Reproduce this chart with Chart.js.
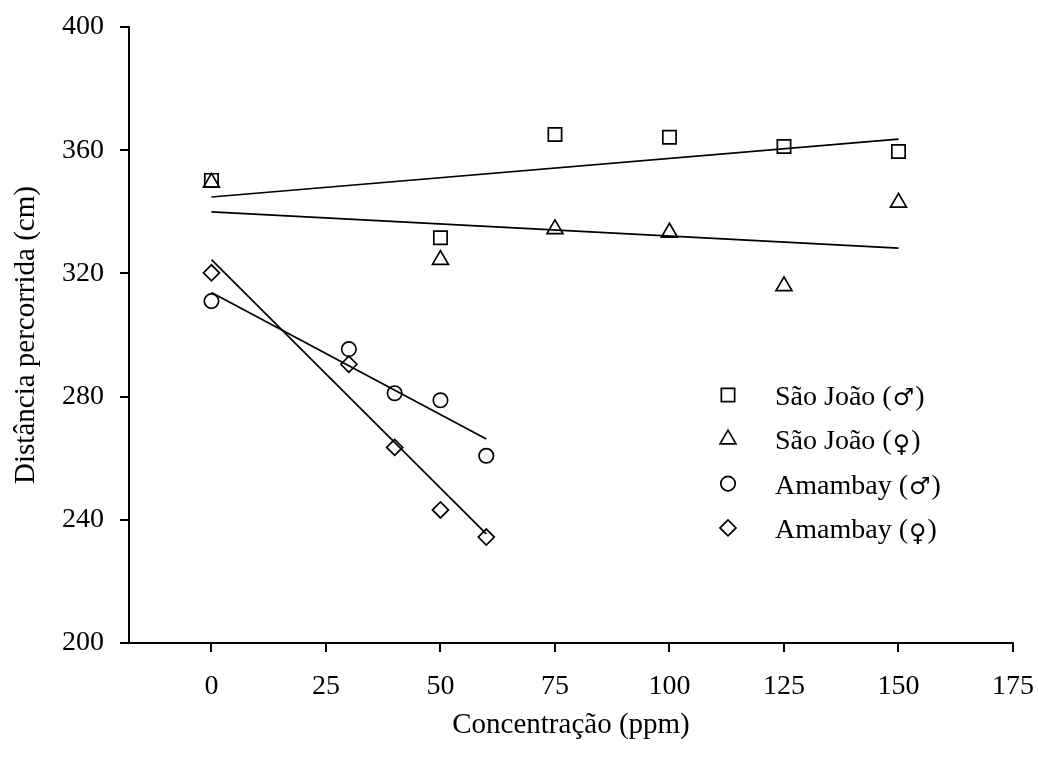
<!DOCTYPE html>
<html>
<head>
<meta charset="utf-8">
<script src="https://cdn.jsdelivr.net/npm/chart.js@4/dist/chart.umd.min.js"></script>
<style>
  html, body { margin: 0; padding: 0; background: #fff; }
  canvas { display: block; }
</style>
</head>
<body>
<canvas id="chart" width="1038" height="757"></canvas>
<script>
'use strict';

// measured distances per concentration
const saoJoaoX = [0, 50, 75, 100, 125, 150];
const saoJoaoMale = [350.2, 331.6, 365.1, 364.2, 361.2, 359.6];
const saoJoaoFemale = [349.5, 324.4, 334.4, 333.3, 315.9, 343.0];

const amambayX = [0, 30, 40, 50, 60];
const amambayMale = [311.0, 295.4, 281.1, 278.8, 260.8];
const amambayFemale = [320.2, 290.5, 263.5, 243.2, 234.4];

// fitted regression lines: [start, end] of each
const fitSaoJoaoX = [0, 150];
const fitSaoJoaoMale = [344.8, 363.6];
const fitSaoJoaoFemale = [340.0, 328.2];
const fitAmambayX = [0, 60];
const fitAmambayMale = [313.8, 266.2];
const fitAmambayFemale = [324.5, 235.4];

const xTicks = [0, 25, 50, 75, 100, 125, 150, 175];
const yTicks = [200, 240, 280, 320, 360, 400];

const legendNames = ['São João', 'São João', 'Amambay', 'Amambay'];
const legendSexes = ['♂', '♀', '♂', '♀'];

const FONT = "'Liberation Serif', 'Times New Roman', 'DejaVu Serif', serif";
const markers = [
	{ pointStyle: 'rect', radius: 9.4 },
	{ pointStyle: 'triangle', radius: 9.2 },
	{ pointStyle: 'circle', radius: 7.2 },
	{ pointStyle: 'rectRot', radius: 8 }
];

const pairs = (xs, ys) => xs.map((x, i) => ({ x, y: ys[i] }));

function pointSet(xs, ys, m) {
	return {
		type: 'scatter',
		data: pairs(xs, ys),
		pointStyle: m.pointStyle,
		pointRadius: m.radius,
		pointHoverRadius: m.radius,
		pointBorderWidth: 1.7,
		borderColor: '#000',
		backgroundColor: 'rgba(0,0,0,0)'
	};
}

function fitLine(xs, ys) {
	return {
		type: 'line',
		data: pairs(xs, ys),
		borderColor: '#000',
		borderWidth: 1.7,
		pointRadius: 0,
		fill: false,
		tension: 0
	};
}

const legendBox = {
	id: 'legendBox',
	afterDatasetsDraw(chart) {
		const ctx = chart.ctx;
		const mx = 728, tx = 775, top = 395, gap = 44.3;
		ctx.save();
		ctx.strokeStyle = '#000';
		ctx.fillStyle = 'rgba(0,0,0,0)';
		ctx.lineWidth = 1.7;
		markers.forEach((m, i) => {
			Chart.helpers.drawPoint(ctx, { pointStyle: m.pointStyle, radius: m.radius, rotation: 0, borderWidth: 1.7 }, mx, top + i * gap);
		});
		ctx.fillStyle = '#000';
		ctx.textBaseline = 'alphabetic';
		ctx.textAlign = 'left';
		legendNames.forEach((name, i) => {
			const base = top + i * gap + 10;
			let x = tx;
			ctx.font = '28px ' + FONT;
			const head = name + ' (';
			ctx.fillText(head, x, base);
			x += ctx.measureText(head).width + 1;
			ctx.font = '24px "DejaVu Sans"';
			ctx.fillText(legendSexes[i], x, base + (legendSexes[i] === '♀' ? 3 : 0));
			x += ctx.measureText(legendSexes[i]).width + 1;
			ctx.font = '28px ' + FONT;
			ctx.fillText(')', x, base);
		});
		ctx.restore();
	}
};

function dropAutoPadding(s) {
	s.paddingTop = 0;
	s.paddingBottom = 0;
	s.paddingLeft = 0;
	s.paddingRight = 0;
}

const axisStyle = {
	grid: { display: true, drawOnChartArea: false, drawTicks: true, tickLength: 9, color: '#000', lineWidth: 2 },
	border: { display: true, color: '#000', width: 2 }
};

new Chart(document.getElementById('chart'), {
	type: 'scatter',
	data: {
		datasets: [
			pointSet(saoJoaoX, saoJoaoMale, markers[0]),
			pointSet(saoJoaoX, saoJoaoFemale, markers[1]),
			pointSet(amambayX, amambayMale, markers[2]),
			pointSet(amambayX, amambayFemale, markers[3]),
			fitLine(fitSaoJoaoX, fitSaoJoaoMale),
			fitLine(fitSaoJoaoX, fitSaoJoaoFemale),
			fitLine(fitAmambayX, fitAmambayMale),
			fitLine(fitAmambayX, fitAmambayFemale)
		]
	},
	options: {
		responsive: false,
		animation: false,
		devicePixelRatio: 1,
		layout: { padding: { top: 27, right: 25, left: 0, bottom: 0 } },
		plugins: { legend: { display: false }, tooltip: { enabled: false } },
		scales: {
			x: {
				type: 'linear',
				min: -18,
				max: 175,
				afterBuildTicks: s => { s.ticks = xTicks.map(v => ({ value: v })); },
				afterFit: s => { s.height = 114; dropAutoPadding(s); },
				...axisStyle,
				ticks: { color: '#000', font: { family: FONT, size: 28 }, padding: 18, maxRotation: 0, autoSkip: false },
				title: { display: true, text: 'Concentração (ppm)', color: '#000', font: { family: FONT, size: 29 }, padding: { top: 0, bottom: 14 } }
			},
			y: {
				type: 'linear',
				min: 200,
				max: 400,
				afterBuildTicks: s => { s.ticks = yTicks.map(v => ({ value: v })); },
				afterFit: s => { s.width = 129; dropAutoPadding(s); },
				...axisStyle,
				ticks: { color: '#000', font: { family: FONT, size: 28 }, padding: 16 },
				title: { display: true, text: 'Distância percorrida (cm)', color: '#000', font: { family: FONT, size: 29 }, padding: { top: 9, bottom: 0 } }
			}
		}
	},
	plugins: [legendBox]
});
</script>
</body>
</html>
